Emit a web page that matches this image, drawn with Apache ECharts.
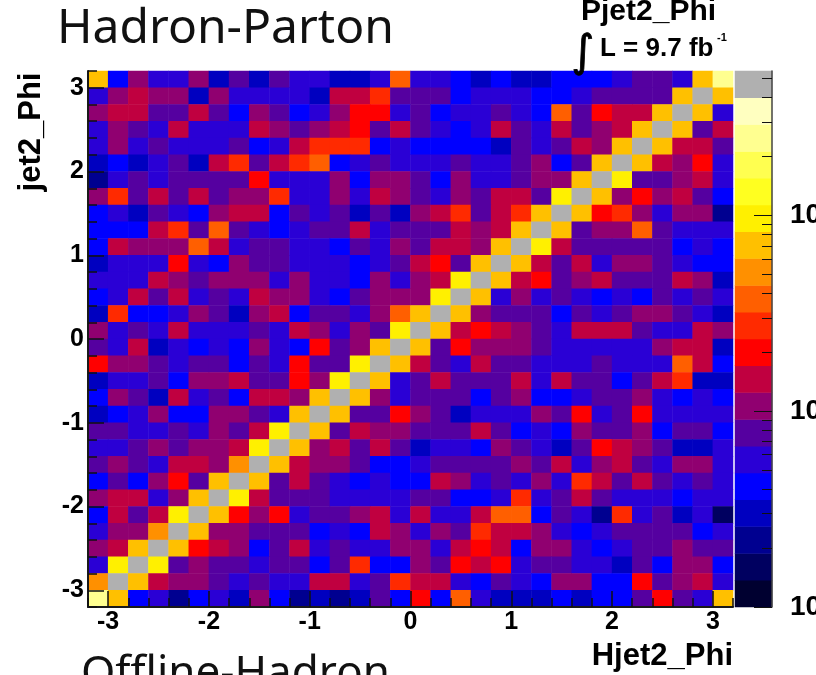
<!DOCTYPE html>
<html>
<head>
<meta charset="utf-8">
<script src="https://cdn.jsdelivr.net/npm/echarts@6/dist/echarts.min.js"></script>
<style>html,body{margin:0;padding:0;background:#fff}#c{width:816px;height:675px}</style>
</head>
<body>
<div id="c"></div>
<script>
// Each row lists the contour level (0-19) of the 32 phi bins, top row first.
const row00 = [13,4,7,5,5,7,3,6,3,6,5,5,3,3,5,11,5,5,4,3,4,3,3,4,4,4,5,6,6,5,13,17];
const row01 = [5,7,8,7,7,3,7,5,5,5,5,3,8,8,10,6,6,6,4,5,5,5,4,4,5,6,6,6,6,13,19,13];
const row02 = [7,8,8,6,6,8,6,4,7,6,4,5,7,9,9,5,6,4,5,5,6,5,4,11,6,9,8,8,13,19,13,5];
const row03 = [5,7,6,5,8,5,5,5,8,7,6,7,8,9,6,8,6,5,4,5,8,6,5,8,6,7,8,13,19,13,6,8];
const row04 = [5,7,5,6,5,5,5,6,4,5,8,10,10,10,4,5,4,4,4,4,3,6,5,6,8,7,13,19,13,8,8,6];
const row05 = [3,4,3,5,6,3,8,10,6,8,10,11,4,5,6,5,5,5,6,5,5,6,7,4,6,13,19,13,8,7,9,5];
const row06 = [2,5,6,5,6,6,6,6,9,5,5,5,7,4,7,7,6,4,7,5,5,6,7,7,13,19,14,6,6,7,8,5];
const row07 = [7,10,6,8,6,8,6,7,7,10,5,5,7,5,8,7,6,5,7,6,8,8,6,14,19,13,7,9,7,8,6,4];
const row08 = [4,5,3,6,5,4,7,8,8,4,6,5,6,3,6,3,7,8,10,6,8,10,13,19,13,9,10,7,5,7,7,2];
const row09 = [4,4,4,8,10,6,11,6,5,4,5,6,6,8,5,6,6,6,8,7,8,13,19,13,6,7,7,11,6,5,5,5];
const row10 = [4,8,7,7,7,11,8,5,6,6,5,5,4,6,5,7,6,8,8,7,13,19,14,8,6,6,6,6,6,4,5,4];
const row11 = [3,5,5,5,9,5,4,7,6,6,5,5,5,4,5,6,8,9,6,13,19,13,8,6,8,5,7,7,6,5,4,4];
const row12 = [5,5,5,8,7,6,7,7,7,5,7,5,5,4,7,5,7,8,14,19,13,8,9,6,7,8,6,6,6,8,7,3];
const row13 = [4,5,8,6,8,5,6,5,8,7,7,5,4,6,7,7,7,14,19,13,5,7,5,6,5,4,5,4,6,5,6,5];
const row14 = [3,10,4,4,5,7,6,3,7,8,4,6,6,5,7,11,13,19,13,7,6,6,6,4,6,5,6,7,7,6,5,3];
const row15 = [7,5,6,5,8,5,5,5,6,5,8,7,5,7,6,14,19,13,8,9,8,7,6,5,8,8,8,6,5,5,8,7];
const row16 = [6,5,8,3,5,4,5,4,7,5,4,9,6,7,13,19,13,6,9,7,7,7,6,5,5,5,5,5,7,8,8,3];
const row17 = [9,7,7,6,5,6,6,4,6,5,9,6,6,14,19,13,8,6,5,8,6,6,5,5,5,6,5,5,5,11,8,4];
const row18 = [3,5,5,6,4,7,7,8,6,6,9,7,14,19,13,5,6,8,6,6,6,8,5,8,6,6,4,6,8,10,3,3];
const row19 = [4,7,6,3,8,5,6,4,8,8,7,13,19,13,7,5,6,6,6,4,6,7,4,4,5,6,6,7,5,4,5,4];
const row20 = [3,4,5,7,4,4,7,7,6,5,13,19,13,6,6,9,7,6,3,5,5,5,7,6,9,5,6,9,5,5,5,5];
const row21 = [6,6,5,5,6,5,7,6,8,14,19,13,6,8,7,7,6,6,6,8,6,4,5,4,7,6,6,7,4,6,6,4];
const row22 = [5,5,6,7,6,7,7,8,14,19,13,7,8,6,8,6,3,5,5,4,7,6,5,3,6,9,8,7,6,3,3,5];
const row23 = [6,7,6,5,8,8,7,12,19,13,8,7,7,6,4,4,5,6,6,6,6,7,6,8,5,7,8,6,5,7,7,5];
const row24 = [4,6,4,7,9,6,13,19,13,6,8,6,5,4,5,4,4,8,7,5,6,5,7,5,10,8,6,8,6,5,6,5];
const row25 = [7,8,8,5,7,13,19,14,8,6,6,6,5,5,5,5,6,6,4,4,5,10,5,6,8,6,5,5,5,4,5,5];
const row26 = [4,8,6,8,14,19,13,9,7,9,5,6,6,7,8,5,8,5,5,8,11,11,4,6,5,2,10,5,6,3,5,1];
const row27 = [5,7,7,12,19,13,7,7,6,6,6,4,5,4,8,7,5,7,6,10,8,8,7,5,4,5,6,6,6,6,4,5];
const row28 = [7,8,13,19,13,9,8,7,4,6,8,5,6,5,5,7,7,5,8,9,8,4,7,7,5,4,5,6,6,7,6,6];
const row29 = [5,14,19,14,6,7,6,6,5,6,6,4,6,10,4,4,7,6,9,8,9,5,6,6,5,5,3,6,4,7,7,4];
const row30 = [12,19,13,8,7,7,6,5,6,5,5,8,8,5,6,10,8,8,5,4,6,5,4,7,7,4,4,9,6,7,8,5];
const row31 = [17,13,4,5,2,4,5,3,7,4,2,3,2,3,6,4,9,4,11,5,3,3,3,4,3,4,4,6,9,6,5,13];

const phiTicks = [-3,-2,-1,0,1,2,3];
const phiBinEdges = [-3.2,-3,-2.8,-2.6,-2.4,-2.2,-2,-1.8,-1.6,-1.4,-1.2,-1,-0.8,-0.6,-0.4,-0.2,0,0.2,0.4,0.6,0.8,1,1.2,1.4,1.6,1.8,2,2.2,2.4,2.6,2.8,3,3.2];
const levelColors = ['#000030','#000060','#000090','#0000c0','#0000ff','#2a00d5','#5500a0','#900070','#c00040','#ff0000','#ff2a00','#ff5f00','#ff9000','#ffc000','#fff000','#ffff20','#ffff50','#ffff90','#ffffc0','#b0b0b0'];
const colorbarDecades = [0,1,2];
const colorbarTop = 2.738;
const colorbarMinor = [0.301,0.477,0.602,0.699,0.778,0.845,0.903,0.954,1.301,1.477,1.602,1.699,1.778,1.845,1.903,1.954,2.301,2.477,2.602,2.699];

const rows = [row00,row01,row02,row03,row04,row05,row06,row07,row08,row09,row10,row11,row12,row13,row14,row15,row16,row17,row18,row19,row20,row21,row22,row23,row24,row25,row26,row27,row28,row29,row30,row31];
const bins = rows.map((_, i) => i);
const cells = [];
rows.forEach((r, ri) => r.forEach((v, ci) => cells.push([ci, rows.length - 1 - ri, v])));
const levels = levelColors.map((_, i) => i);
const barCells = levels.map(l => [0, l, l]);

const labelFont = {fontFamily:'Liberation Sans',fontWeight:'bold',color:'#000'};
const line = {show:true,onZero:false,lineStyle:{color:'#1a1a1a',width:2}};
const noLine = {show:false,onZero:false};

function valueAxis(extra){
  return Object.assign({type:'value',z:10,min:-3.2,max:3.2,splitLine:{show:false},axisLabel:{show:false},axisLine:noLine},extra);
}
const tickStyle = {color:'#111',width:1.5};

const option = {
  animation:false,
  backgroundColor:'#fff',
  title:{text:'Hadron-Parton',left:52,top:0,textStyle:{fontFamily:'Noto Sans',fontWeight:'normal',fontSize:48,color:'#111'}},
  grid:[
    {left:88,top:71,width:645,height:536,outerBoundsMode:'none'},
    {left:735,top:71,width:37,height:536,outerBoundsMode:'none'}
  ],
  visualMap:{show:false,type:'piecewise',dimension:2,seriesIndex:[0,1],pieces:levels.map(l=>({value:l,color:levelColors[l]}))},
  xAxis:[
    {type:'category',gridIndex:0,data:bins,show:false},
    valueAxis({gridIndex:0,position:'bottom',axisLine:line,
      name:'Hjet2_Phi',nameLocation:'end',nameGap:0,
      nameTextStyle:Object.assign({fontSize:31,align:'right',verticalAlign:'top',padding:[34,0,0,0]},labelFont),
      axisTick:{show:true,inside:true,length:16,lineStyle:tickStyle,customValues:phiTicks},
      axisLabel:{show:true,margin:3,fontSize:25,fontFamily:'Liberation Sans',fontWeight:'bold',color:'#000',customValues:phiTicks,formatter:v=>String(v)}}),
    valueAxis({gridIndex:0,position:'bottom',
      axisTick:{show:true,inside:true,length:9,lineStyle:tickStyle,customValues:phiBinEdges}}),
    {type:'category',gridIndex:1,data:[0],show:false}
  ],
  yAxis:[
    {type:'category',gridIndex:0,data:bins,show:false},
    valueAxis({gridIndex:0,position:'left',axisLine:line,
      name:'jet2_Phi',nameLocation:'end',nameGap:-61,nameRotate:90,
      nameTextStyle:Object.assign({fontSize:31,align:'center',verticalAlign:'bottom',padding:[0,0,41,0]},labelFont),
      axisTick:{show:true,inside:true,length:16,lineStyle:tickStyle,customValues:phiTicks},
      axisLabel:{show:true,margin:4,fontSize:25,fontFamily:'Liberation Sans',fontWeight:'bold',color:'#000',customValues:phiTicks,formatter:v=>String(v)}}),
    valueAxis({gridIndex:0,position:'left',
      axisTick:{show:true,inside:true,length:9,lineStyle:tickStyle,customValues:phiBinEdges}}),
    {type:'category',gridIndex:1,data:levels,show:false},
    {type:'value',z:10,gridIndex:1,position:'right',min:0,max:colorbarTop,splitLine:{show:false},
      axisLine:{show:true,onZero:false,lineStyle:{color:'#444',width:1.5}},
      axisTick:{show:true,inside:true,length:18,lineStyle:{color:'#111',width:1},customValues:colorbarDecades},
      axisLabel:{show:true,margin:18,fontSize:28,fontFamily:'Liberation Sans',fontWeight:'bold',color:'#000',customValues:colorbarDecades,formatter:()=>'10'}},
    {type:'value',z:10,gridIndex:1,position:'right',min:0,max:colorbarTop,splitLine:{show:false},
      axisLine:noLine,axisLabel:{show:false},
      axisTick:{show:true,inside:true,length:10,lineStyle:{color:'#111',width:1},customValues:colorbarMinor}}
  ],
  series:[
    {type:'heatmap',xAxisIndex:0,yAxisIndex:0,data:cells,progressive:0,emphasis:{disabled:true}},
    {type:'heatmap',xAxisIndex:3,yAxisIndex:3,data:barCells,progressive:0,emphasis:{disabled:true}}
  ],
  graphic:[
    {type:'text',z:100,left:81,top:652,style:{text:'Offline-Hadron',fontFamily:'Noto Sans',fontSize:44,fill:'#111'}},
    {type:'text',z:100,left:581,top:-3,style:{text:'Pjet2_Phi',fontFamily:'Liberation Sans',fontWeight:'bold',fontSize:30,fill:'#000'}},
    {type:'text',z:100,left:600,top:36,style:{text:'L = 9.7 fb',fontFamily:'Liberation Sans',fontWeight:'bold',fontSize:26,fill:'#000'}},
    {type:'text',z:100,left:717,top:32,style:{text:'-1',fontFamily:'Liberation Sans',fontWeight:'bold',fontSize:11,fill:'#000'}},
    {type:'text',z:100,left:571,top:32,style:{text:'\u222B',fontFamily:'DejaVu Sans',fontSize:44,fill:'#000',stroke:'#000',lineWidth:0.8}}
  ]
};
const chart = echarts.init(document.getElementById('c'),null,{renderer:'canvas'});
chart.setOption(option);
</script>
</body>
</html>
